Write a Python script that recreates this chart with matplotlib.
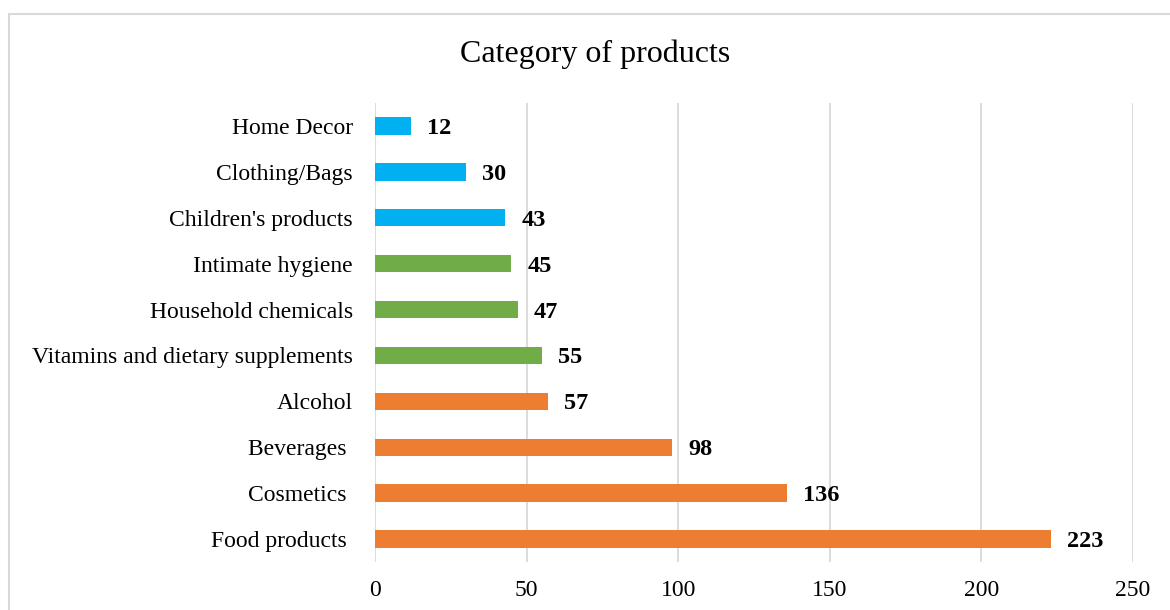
import matplotlib.pyplot as plt
from matplotlib.patches import Rectangle

categories = ['Food products ', 'Cosmetics ', 'Beverages ', 'Alcohol',
              'Vitamins and dietary supplements', 'Household chemicals',
              'Intimate hygiene', "Children's products", 'Clothing/Bags', 'Home Decor']
values = [223, 136, 98, 57, 55, 47, 45, 43, 30, 12]
groups = ['orange'] * 4 + ['green'] * 3 + ['blue'] * 3
x_ticks = [0, 50, 100, 150, 200, 250]

palette = {'orange': '#ED7D31', 'green': '#70AD47', 'blue': '#00B0F0'}
plt.rcParams['font.family'] = ['Liberation Serif', 'DejaVu Serif']

W, H = 1170, 610
fig = plt.figure(figsize=(W / 100, H / 100), dpi=100)
ax = fig.add_axes([375 / W, 1 - 562 / H, (1133 - 375) / W, (562 - 103) / H])

# outer chart border
fig.patches.append(Rectangle((9 / W, -0.1), 1.2, 1 - 14 / H + 0.1, transform=fig.transFigure,
                             fill=False, edgecolor='#D9D9D9', linewidth=1.5))

ypos = range(len(categories))
ax.barh(ypos, values, height=0.38, color=[palette[g] for g in groups], zorder=3)
for y, v in zip(ypos, values):
    ax.annotate(str(v), (v, y), xytext=(16, 0), textcoords='offset pixels',
                va='center_baseline', ha='left', fontsize=17.5, fontweight='bold')

ax.set_xlim(0, 250)
ax.set_ylim(-0.5, len(categories) - 0.5)
ax.set_xticks(x_ticks)
ax.set_yticks(list(ypos))
ax.set_yticklabels(categories)
ax.tick_params(axis='both', length=0, labelsize=17)
ax.tick_params(axis='y', pad=16)
ax.tick_params(axis='x', pad=13)
ax.xaxis.grid(True, color='#D9D9D9', linewidth=1.3, zorder=0)
for s in ax.spines.values():
    s.set_visible(False)

fig.text(595 / W, 1 - 54 / H, 'Category of products', ha='center', va='center', fontsize=23)

fig.savefig('out.png', dpi=100)
